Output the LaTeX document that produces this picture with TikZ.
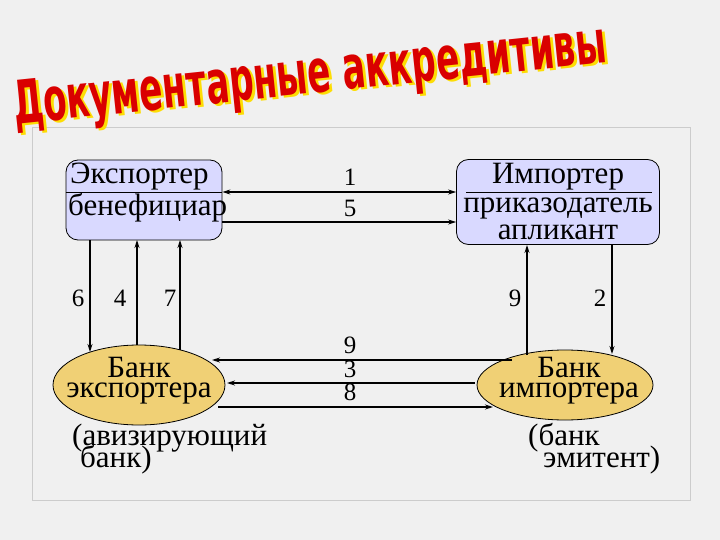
\documentclass[tikz,border=0pt]{standalone}
\usepackage{fontspec}
\setmainfont{Liberation Serif}
\newfontfamily\serifru{Liberation Serif}
\newfontfamily\titlefont{DejaVu Sans}
\usetikzlibrary{shapes.geometric,arrows.meta}
\begin{document}
\begin{tikzpicture}[x=1pt,y=-1pt,
  box/.style={draw,rounded corners=12pt,fill=blue!15,line width=0.8pt},
  bank/.style={draw,ellipse,fill=orange!35!yellow!60!brown!60,line width=0.8pt},
  arr/.style={-{Stealth[length=8pt,width=5pt]},line width=1.1pt},
  lbl/.style={font=\serifru\fontsize{25}{25}\selectfont},
  txt/.style={font=\serifru\fontsize{31}{31}\selectfont,inner sep=0pt}]
\fill[gray!12] (0,0) rectangle (720,540);
\useasboundingbox (0,0) rectangle (720,540);
\draw[gray!40,line width=1pt] (32,128) rectangle (690,500);
% title
\node[rotate=6,font=\titlefont\bfseries\fontsize{60}{60}\selectfont,xscale=0.57,yscale=1.0,text=yellow!80!orange] (tt) at (313,80) {Документарные аккредитивы};
\node[rotate=6,font=\titlefont\bfseries\fontsize{60}{60}\selectfont,xscale=0.57,yscale=1.0,text=red!85!black] (t) at (310,78) {Документарные аккредитивы};
% boxes
\node[box,minimum width=156pt,minimum height=80pt] (E) at (144,200) {};
\node[txt,anchor=west] (E1) at (70,177) {Экспортер};
\node[txt,anchor=west] (E2) at (68,208) {бенефициар};
\draw (E.west|-0,192) -- (E.east|-0,192);
\node[box,minimum width=203pt,minimum height=85pt] (I) at (558,202) {};
\node[txt] (I1) at (558,177) {Импортер};
\node[txt] (I2) at (558,208) {приказодатель};
\node[txt] (I3) at (558,232) {апликант};
\draw (466,192) -- (652,192);
% banks
\node[bank,minimum width=172pt,minimum height=80pt] (B1) at (139,385) {};
\node[txt] at (139,368) {Банк};
\node[txt] at (139,393) {экспортера};
\node[bank,minimum width=176pt,minimum height=70pt] (B2) at (565,385) {};
\node[txt] at (569,368) {Банк};
\node[txt] at (569,393) {импортера};
\node[txt,anchor=west] (a1) at (72,438) {(авизирующий};
\node[txt,anchor=west] (a2) at (80,460) {банк)};
\node[txt,anchor=west] (b1) at (528,438) {(банк};
\node[txt,anchor=west] (b2) at (543,460) {эмитент)};
% top arrows
\draw[arr,{Stealth[length=8pt,width=5pt]}-{Stealth[length=8pt,width=5pt]}] (E.east|-0,192) -- (I.west|-0,192);
\draw[arr] (E.east|-0,222) -- (I.west|-0,222);
\node[lbl] at (350,177) {1};
\node[lbl] at (350,208) {5};
% verticals left
\coordinate (v6a) at (90,240); \coordinate (v6b) at (90,352);
\draw[arr] (v6a) -- (v6b);
\coordinate (v4a) at (137,345); \coordinate (v4b) at (137,240);
\draw[arr] (v4a) -- (v4b);
\coordinate (v7a) at (180,350); \coordinate (v7b) at (180,240);
\draw[arr] (v7a) -- (v7b);
\node[lbl] at (78,298) {6};
\node[lbl] at (120,298) {4};
\node[lbl] at (170,298) {7};
% verticals right
\coordinate (v9a) at (527,355); \coordinate (v9b) at (527,245);
\draw[arr] (v9a) -- (v9b);
\coordinate (v2a) at (612,245); \coordinate (v2b) at (612,354);
\draw[arr] (v2a) -- (v2b);
\node[lbl] at (515,298) {9};
\node[lbl] at (600,298) {2};
% horizontals
\coordinate (h9a) at (512,360); \coordinate (h9b) at (212,360);
\draw[arr] (h9a) -- (h9b);
\coordinate (h3a) at (475,383); \coordinate (h3b) at (227,383);
\draw[arr] (h3a) -- (h3b);
\coordinate (h8a) at (218,407); \coordinate (h8b) at (493,407);
\draw[arr] (h8a) -- (h8b);
\node[lbl] at (350,345) {9};
\node[lbl] at (350,369) {3};
\node[lbl] at (350,392) {8};
\end{tikzpicture}
\end{document}
